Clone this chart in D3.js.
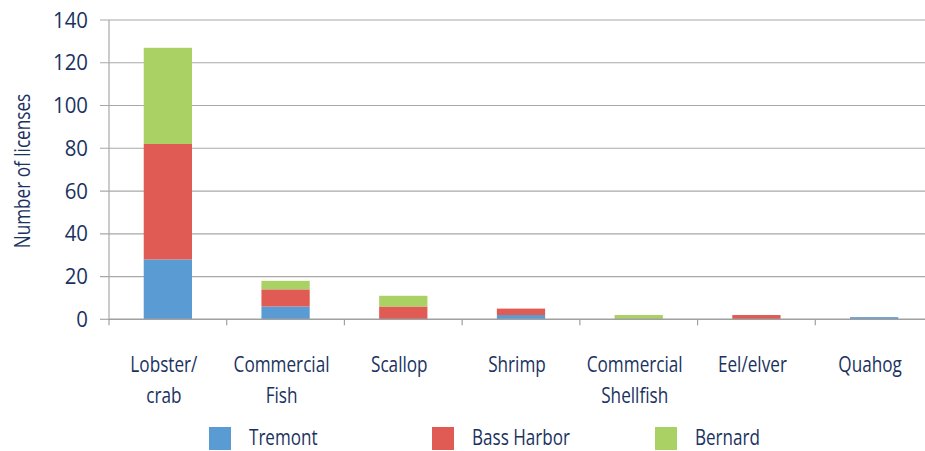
<!DOCTYPE html>
<html><head><meta charset="utf-8">
<script src="https://cdn.jsdelivr.net/npm/d3@7"></script>
<style>
html,body{margin:0;padding:0;background:#fff;}
svg{display:block;}
text{font-family:"Open Sans","DejaVu Sans",sans-serif;fill:#1a325f;font-weight:500;}
</style></head>
<body>
<script>
const categories = ["Lobster/\ncrab","Commercial\nFish","Scallop","Shrimp","Commercial\nShellfish","Eel/elver","Quahog"];
const seriesNames = ["Tremont","Bass Harbor","Bernard"];
const tremont    = [28, 6, 0, 2, 0, 0, 1];
const bassHarbor = [54, 8, 6, 3, 0, 2, 0];
const bernard    = [45, 4, 5, 0, 2, 0, 0];
const yTicks = [0,20,40,60,80,100,120,140];
const colors = ["#5a9bd4","#df5b53","#aad163"];

const W=925,H=451, FS=22;
const svg=d3.select("body").append("svg").attr("width",W).attr("height",H);

// condensed factors: measure reference words
function measure(s,fs){const p=svg.append("text").attr("font-size",fs||FS).text(s);const w=p.node().getComputedTextLength();p.remove();return w;}
const SX=96/measure("Commercial");
const SXN=35/measure("140");
const SXL=98/measure("Bass Harbor",21);

const x=d3.scaleBand().domain(categories).range([109,933]).paddingInner(0.59).paddingOuter(0.295);
const y=d3.scaleLinear().domain([0,140]).range([319.3,20]);

const rows=categories.map((c,i)=>({cat:c,Tremont:tremont[i],"Bass Harbor":bassHarbor[i],Bernard:bernard[i]}));
const stack=d3.stack().keys(seriesNames)(rows);

// gridlines
svg.append("g").selectAll("line").data(yTicks.filter(d=>d>0)).join("line")
  .attr("x1",100).attr("x2",W).attr("y1",d=>y(d)).attr("y2",d=>y(d))
  .attr("stroke","#a8a8a8").attr("stroke-width",1.2);
svg.append("line").attr("x1",100).attr("x2",109).attr("y1",y(0)).attr("y2",y(0)).attr("stroke","#a8a8a8").attr("stroke-width",1.2);

// y tick labels
svg.append("g").selectAll("text").data(yTicks).join("text")
  .attr("transform",d=>`translate(88,${y(d)+7.5}) scale(${SXN},1)`)
  .attr("text-anchor","end").attr("font-size",FS).text(d=>d);
svg.append("line").attr("x1",109).attr("x2",109).attr("y1",y(140)).attr("y2",y(0)).attr("stroke","#a8a8a8").attr("stroke-width",1.2);

// bars
svg.append("g").selectAll("g").data(stack).join("g").attr("fill",(d,i)=>colors[i])
  .selectAll("rect").data(d=>d).join("rect")
  .attr("x",d=>x(d.data.cat)).attr("width",x.bandwidth())
  .attr("y",d=>y(d[1])).attr("height",d=>y(d[0])-y(d[1]));

// x axis
svg.append("line").attr("x1",109).attr("x2",W).attr("y1",y(0)).attr("y2",y(0)).attr("stroke","#a0a0a0").attr("stroke-width",1.5);
const gap=(x.step()-x.bandwidth())/2;
svg.append("g").selectAll("line").data(categories).join("line")
  .attr("x1",d=>x(d)-gap).attr("x2",d=>x(d)-gap)
  .attr("y1",y(0)).attr("y2",y(0)+6).attr("stroke","#a0a0a0").attr("stroke-width",1.2);

// category labels
const cl=svg.append("g").selectAll("text").data(categories).join("text")
  .attr("text-anchor","middle").attr("font-size",FS)
  .attr("transform",d=>`translate(${x(d)+x.bandwidth()/2-4},372) scale(${SX},1)`);
cl.each(function(d){
  const t=d3.select(this);
  d.split("\n").forEach((s,i)=>t.append("tspan").attr("x",0).attr("dy",i?31:0).text(s));
});

// y title
svg.append("text").attr("transform",`translate(30,171) rotate(-90) scale(${SX},1)`).attr("text-anchor","middle")
  .attr("font-size",FS).text("Number of licenses");

// legend
const legX=[209,432,655];
const lg=svg.append("g").selectAll("g").data(seriesNames).join("g").attr("transform",(d,i)=>`translate(${legX[i]},427)`);
lg.append("rect").attr("width",22).attr("height",23).attr("fill",(d,i)=>colors[i]);
lg.append("text").attr("transform",`translate(40,18) scale(${SXL},1)`).attr("font-size",21).text(d=>d);
</script>
</body></html>
